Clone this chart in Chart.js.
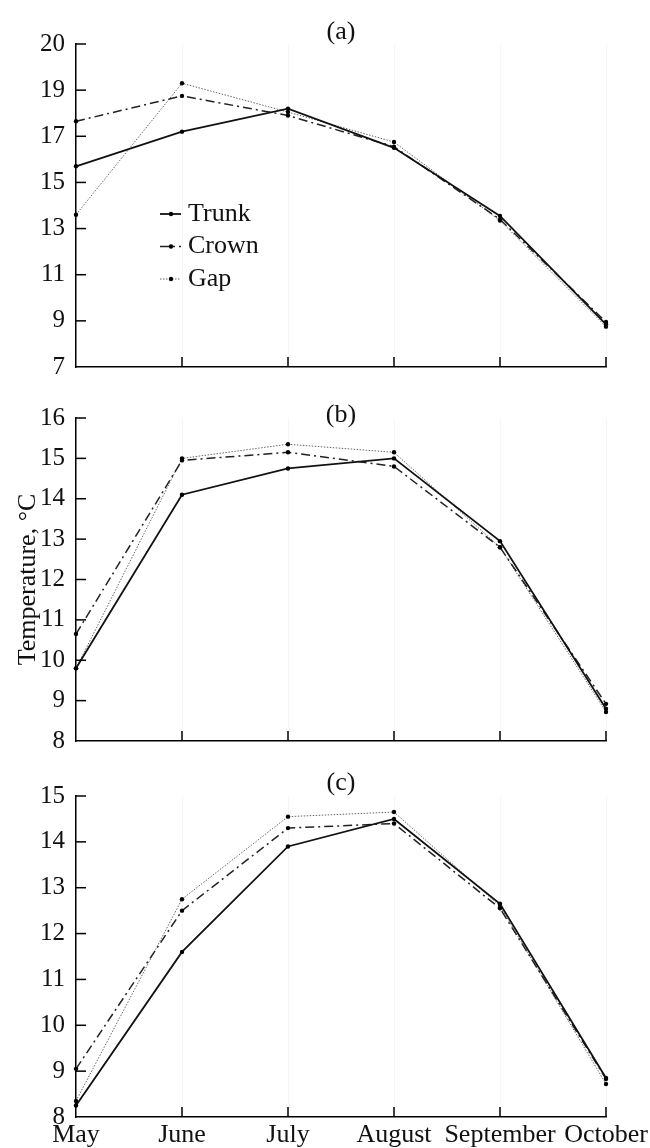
<!DOCTYPE html>
<html>
<head>
<meta charset="utf-8">
<script src="https://cdn.jsdelivr.net/npm/chart.js@4.4.0/dist/chart.umd.min.js"></script>
<style>
  body { margin: 0; background: #fff; }
  #wrap { position: relative; width: 650px; height: 1148px; }
  canvas { position: absolute; left: 0; }
</style>
</head>
<body>
<div id="wrap">
  <canvas id="chartA" width="650" height="380" style="top:0"></canvas>
  <canvas id="chartB" width="650" height="380" style="top:380px"></canvas>
  <canvas id="chartC" width="650" height="388" style="top:760px"></canvas>
</div>
<script>
const months = ['May', 'June', 'July', 'August', 'September', 'October'];
const seriesNames = ['Trunk', 'Crown', 'Gap'];

// (a)
const trunkA = [15.7, 17.2, 18.2, 16.5, 13.55, 8.85];
const crownA = [17.65, 18.75, 17.9, 16.55, 13.4, 8.95];
const gapA = [13.6, 19.3, 18.05, 16.75, 13.35, 8.75];
const ticksA = [7, 9, 11, 13, 15, 17, 19, 21];
const tickLabelsA = ['7', '9', '11', '13', '15', '17', '19', '20'];

// (b)
const trunkB = [9.8, 14.1, 14.75, 15.0, 12.95, 8.8];
const crownB = [10.65, 14.95, 15.15, 14.8, 12.8, 8.92];
const gapB = [9.8, 15.0, 15.35, 15.15, 12.8, 8.72];

// (c)
const trunkC = [8.25, 11.6, 13.9, 14.5, 12.65, 8.85];
const crownC = [9.05, 12.5, 14.3, 14.4, 12.55, 8.83];
const gapC = [8.35, 12.75, 14.55, 14.65, 12.6, 8.72];

const FONT = '"Liberation Serif", "Times New Roman", serif';

const styles = [
  { borderColor: '#111', borderWidth: 1.8, borderDash: [] },
  { borderColor: '#222', borderWidth: 1.5, borderDash: [9, 4, 2, 4] },
  { borderColor: '#666', borderWidth: 1, borderDash: [1.5, 1.5] }
];

function makeDatasets(values) {
  return values.map((vals, i) => ({
    label: seriesNames[i],
    data: vals,
    borderColor: styles[i].borderColor,
    borderWidth: styles[i].borderWidth,
    borderDash: styles[i].borderDash,
    pointRadius: 2.2,
    pointBackgroundColor: '#000',
    pointBorderWidth: 0,
    tension: 0,
    clip: false
  }));
}

const panelLabel = {
  id: 'panelLabel',
  afterDraw(chart, args, opts) {
    const { ctx, chartArea } = chart;
    ctx.save();
    ctx.font = '26px ' + FONT;
    ctx.fillStyle = '#111';
    ctx.textAlign = 'center';
    ctx.textBaseline = 'middle';
    ctx.fillText(opts.text, (chartArea.left + chartArea.right) / 2, chartArea.top + opts.dy);
    ctx.restore();
  }
};

// tick marks pointing into the plot
const innerTicks = {
  id: 'innerTicks',
  afterDraw(chart) {
    const { ctx, chartArea, scales } = chart;
    ctx.save();
    ctx.strokeStyle = '#000';
    ctx.lineWidth = 1.5;
    scales.y.ticks.forEach(t => {
      const y = scales.y.getPixelForValue(t.value);
      if (Math.abs(y - chartArea.bottom) < 1) return;
      ctx.beginPath();
      ctx.moveTo(chartArea.left, y);
      ctx.lineTo(chartArea.left + 10, y);
      ctx.stroke();
    });
    scales.x.ticks.forEach((t, i) => {
      if (i === 0) return;
      const x = scales.x.getPixelForTick(i);
      ctx.beginPath();
      ctx.moveTo(x, chartArea.bottom);
      ctx.lineTo(x, chartArea.bottom - 10);
      ctx.stroke();
    });
    ctx.restore();
  }
};

const innerLegend = {
  id: 'innerLegend',
  afterDraw(chart, args, opts) {
    if (!opts.show) return;
    const { ctx, chartArea } = chart;
    ctx.save();
    chart.data.datasets.forEach((ds, i) => {
      const x0 = chartArea.left + opts.left;
      const y = chartArea.top + opts.top + i * opts.rowGap;
      ctx.strokeStyle = ds.borderColor;
      ctx.lineWidth = ds.borderWidth;
      ctx.setLineDash(ds.borderDash);
      ctx.beginPath();
      ctx.moveTo(x0, y);
      ctx.lineTo(x0 + 21, y);
      ctx.stroke();
      ctx.setLineDash([]);
      ctx.fillStyle = '#000';
      ctx.beginPath();
      ctx.arc(x0 + 11, y, 2.2, 0, Math.PI * 2);
      ctx.fill();
      ctx.font = '26px ' + FONT;
      ctx.fillStyle = '#111';
      ctx.textAlign = 'left';
      ctx.textBaseline = 'middle';
      ctx.fillText(ds.label, x0 + 28, y);
    });
    ctx.restore();
  }
};

function makePanel(id, cfg) {
  const ctx = document.getElementById(id).getContext('2d');
  const yScale = {
    type: 'linear',
    min: cfg.min,
    max: cfg.max,
    grid: { display: false, drawTicks: false },
    border: { display: true, color: '#000', width: 1.5 },
    ticks: {
      stepSize: 1,
      padding: 11,
      color: '#111',
      font: { family: FONT, size: 25 },
      callback: cfg.tickLabels ? (v, i) => cfg.tickLabels[i] : (v) => v
    },
    afterFit(scale) {
      scale.width = 76;
      scale.paddingTop = 0;
      scale.paddingBottom = 0;
    }
  };
  if (cfg.ticks) {
    yScale.afterBuildTicks = (scale) => {
      scale.ticks = cfg.ticks.map(v => ({ value: v }));
    };
  }
  if (cfg.yTitle) {
    yScale.title = {
      display: true,
      text: cfg.yTitle,
      color: '#111',
      font: { family: FONT, size: 26 },
      padding: { top: 13, bottom: 0 }
    };
  }
  return new Chart(ctx, {
    type: 'line',
    data: { labels: months, datasets: makeDatasets(cfg.values) },
    options: {
      responsive: false,
      animation: false,
      layout: { padding: { top: cfg.top, right: 44, left: 0, bottom: 0 } },
      scales: {
        x: {
          offset: false,
          grid: { display: true, drawTicks: false, color: 'rgba(0,0,0,0.035)' },
          border: { display: true, color: '#000', width: 1.5 },
          ticks: {
            display: cfg.showMonths,
            padding: 3,
            maxRotation: 0,
            autoSkip: false,
            color: '#111',
            font: { family: FONT, size: 26 }
          },
          afterFit(scale) {
            scale.height = cfg.xHeight;
            scale.paddingLeft = 0;
            scale.paddingRight = 0;
          }
        },
        y: yScale
      },
      plugins: {
        legend: { display: false },
        tooltip: { enabled: false },
        panelLabel: { text: cfg.label, dy: cfg.labelDy },
        innerLegend: { show: !!cfg.legend, left: 84, top: 170, rowGap: 32.5 }
      }
    },
    plugins: [panelLabel, innerTicks, innerLegend]
  });
}

makePanel('chartA', {
  values: [trunkA, crownA, gapA], min: 7, max: 21,
  ticks: ticksA, tickLabels: tickLabelsA,
  top: 44, xHeight: 13, label: '(a)', labelDy: -12,
  showMonths: false, legend: true
});

makePanel('chartB', {
  values: [trunkB, crownB, gapB], min: 8, max: 16,
  top: 38, xHeight: 19, label: '(b)', labelDy: -3,
  showMonths: false, yTitle: 'Temperature, °C'
});

makePanel('chartC', {
  values: [trunkC, crownC, gapC], min: 8, max: 15,
  top: 36, xHeight: 31, label: '(c)', labelDy: -13,
  showMonths: true
});
</script>
</body>
</html>
